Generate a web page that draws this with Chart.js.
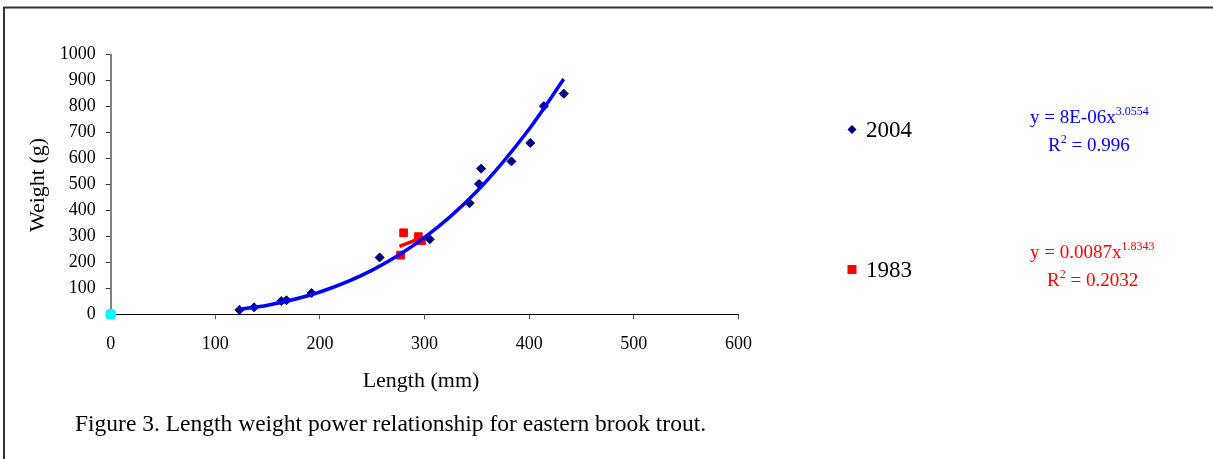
<!DOCTYPE html>
<html>
<head>
<meta charset="utf-8">
<script src="https://cdn.jsdelivr.net/npm/chart.js@4.4.1/dist/chart.umd.min.js"></script>
<style>
  html, body { margin: 0; padding: 0; background: #fff; }
  #wrap { position: relative; width: 1213px; height: 459px; }
</style>
</head>
<body>
<div id="wrap"><canvas id="troutChart" width="1213" height="459"></canvas></div>
<script>
// --- Data ---
const lengths2004 = [123, 137, 163, 168, 192, 257, 305, 343, 352, 354, 383, 401, 414, 433];
const weights2004 = [17, 27, 51, 54, 82, 219, 289, 428, 502, 561, 589, 660, 802, 850];

const lengths1983 = [277, 280, 294, 297];
const weights1983 = [228, 314, 299, 284];

// fitted power curves as drawn in the figure
const trend2004X = [123, 150, 200, 250, 300, 350, 400, 433];
const trend2004Y = [19, 35, 86, 170, 296, 474, 714, 906];
const trend1983X = [276, 287, 298];
const trend1983Y = [262, 279, 296];

const originX = [0];
const originY = [0];

const seriesNames = ['2004', '1983'];
const eq2004 = ['y = 8E-06x', '3.0554', '0.996'];
const eq1983 = ['y = 0.0087x', '1.8343', '0.2032'];
const captionText = 'Figure 3. Length weight power relationship for eastern brook trout.';

const SERIF = "'Liberation Serif', 'Times New Roman', serif";

function toPoints(xs, ys) {
    return xs.map((x, i) => ({ x: x, y: ys[i] }));
}

// --- Frame, titles, legend, equations ---
const framePlugin = {
    id: 'frame',
    beforeDraw(chart) {
        const ctx = chart.ctx;
        ctx.save();
        ctx.fillStyle = '#fff';
        ctx.fillRect(0, 0, chart.width, chart.height);
        ctx.strokeStyle = '#333';
        ctx.lineWidth = 2;
        ctx.strokeRect(4, 7.5, chart.width + 20, chart.height + 20);
        ctx.restore();
    }
};

function drawSupLine(ctx, x, y, base, sup, tail, color) {
    ctx.fillStyle = color;
    ctx.font = '19px ' + SERIF;
    ctx.textAlign = 'left';
    ctx.textBaseline = 'alphabetic';
    ctx.fillText(base, x, y);
    let w = ctx.measureText(base).width;
    ctx.font = '12px ' + SERIF;
    ctx.fillText(sup, x + w, y - 8);
    if (tail) {
        const sw = ctx.measureText(sup).width;
        ctx.font = '19px ' + SERIF;
        ctx.fillText(tail, x + w + sw, y);
    }
}

const annotatePlugin = {
    id: 'annotate',
    afterDraw(chart) {
        const ctx = chart.ctx;
        ctx.save();

        // axis titles
        ctx.fillStyle = '#000';
        ctx.font = '22px ' + SERIF;
        ctx.textAlign = 'center';
        ctx.textBaseline = 'middle';
        ctx.fillText('Length (mm)', 421, 381);
        ctx.save();
        ctx.translate(38, 185);
        ctx.rotate(-Math.PI / 2);
        ctx.fillText('Weight (g)', 0, 0);
        ctx.restore();

        // caption
        ctx.font = '23.5px ' + SERIF;
        ctx.textAlign = 'left';
        ctx.textBaseline = 'alphabetic';
        ctx.fillText(captionText, 75, 431);

        // legend
        ctx.fillStyle = '#000080';
        ctx.beginPath();
        ctx.moveTo(852, 125); ctx.lineTo(856.5, 129.5); ctx.lineTo(852, 134); ctx.lineTo(847.5, 129.5);
        ctx.closePath();
        ctx.fill();
        ctx.fillStyle = '#ff0000';
        ctx.fillRect(847.5, 265, 9, 9);

        ctx.fillStyle = '#000';
        ctx.font = '23px ' + SERIF;
        ctx.textBaseline = 'middle';
        ctx.fillText(seriesNames[0], 866, 131);
        ctx.fillText(seriesNames[1], 866, 271);

        // trendline equations
        drawSupLine(ctx, 1030, 123, eq2004[0], eq2004[1], null, '#0000ff');
        drawSupLine(ctx, 1048, 151, 'R', '2', ' = ' + eq2004[2], '#0000ff');
        drawSupLine(ctx, 1030, 258, eq1983[0], eq1983[1], null, '#ff0000');
        drawSupLine(ctx, 1047, 286, 'R', '2', ' = ' + eq1983[2], '#ff0000');

        ctx.restore();
    }
};

document.addEventListener('DOMContentLoaded', () => {
    const ctx = document.getElementById('troutChart');

    new Chart(ctx, {
        type: 'scatter',
        data: {
            datasets: [
                {
                    label: 'Power (2004)',
                    data: toPoints(trend2004X, trend2004Y),
                    showLine: true,
                    borderColor: '#0000ff',
                    borderWidth: 3.5,
                    pointRadius: 0,
                    cubicInterpolationMode: 'monotone',
                    order: 0
                },
                {
                    label: 'Power (1983)',
                    data: toPoints(trend1983X, trend1983Y),
                    showLine: true,
                    borderColor: '#ff0000',
                    borderWidth: 3.5,
                    pointRadius: 0,
                    cubicInterpolationMode: 'monotone',
                    order: 1
                },
                {
                    label: seriesNames[0],
                    data: toPoints(lengths2004, weights2004),
                    pointStyle: 'rectRot',
                    pointRadius: 4.5,
                    backgroundColor: '#000080',
                    borderColor: '#000080',
                    borderWidth: 1,
                    order: 3
                },
                {
                    label: seriesNames[1],
                    data: toPoints(lengths1983, weights1983),
                    pointStyle: 'rect',
                    pointRadius: 5.5,
                    backgroundColor: '#ff0000',
                    borderColor: '#ff0000',
                    borderWidth: 1,
                    order: 2
                },
                {
                    label: 'origin',
                    data: toPoints(originX, originY),
                    pointStyle: 'rectRounded',
                    pointRadius: 5.5,
                    backgroundColor: '#00ffff',
                    borderColor: '#00ffff',
                    borderWidth: 1,
                    clip: false,
                    order: 4
                }
            ]
        },
        options: {
            responsive: false,
            animation: false,
            events: [],
            layout: { padding: { left: 0, top: 54.7, right: 474.5, bottom: 84.7 } },
            plugins: {
                legend: { display: false },
                tooltip: { enabled: false },
                title: { display: false }
            },
            scales: {
                x: {
                    type: 'linear',
                    min: 0, max: 600,
                    afterFit: (scale) => { scale.height = 60; },
                    ticks: {
                        stepSize: 100,
                        padding: 14,
                        color: '#000',
                        font: { family: SERIF, size: 18 },
                        callback: (v) => String(v)
                    },
                    grid: { drawOnChartArea: false, drawTicks: true, tickLength: 5, color: '#555' },
                    border: { color: '#000', width: 1 }
                },
                y: {
                    type: 'linear',
                    min: 0, max: 1000,
                    afterFit: (scale) => { scale.width = 110.7; },
                    ticks: {
                        stepSize: 100,
                        padding: 10,
                        color: '#000',
                        font: { family: SERIF, size: 18 },
                        callback: (v) => String(v)
                    },
                    grid: { drawOnChartArea: false, drawTicks: true, tickLength: 5, color: '#333' },
                    border: { color: '#808080', width: 2 }
                }
            }
        },
        plugins: [framePlugin, annotatePlugin]
    });
});
</script>
</body>
</html>
